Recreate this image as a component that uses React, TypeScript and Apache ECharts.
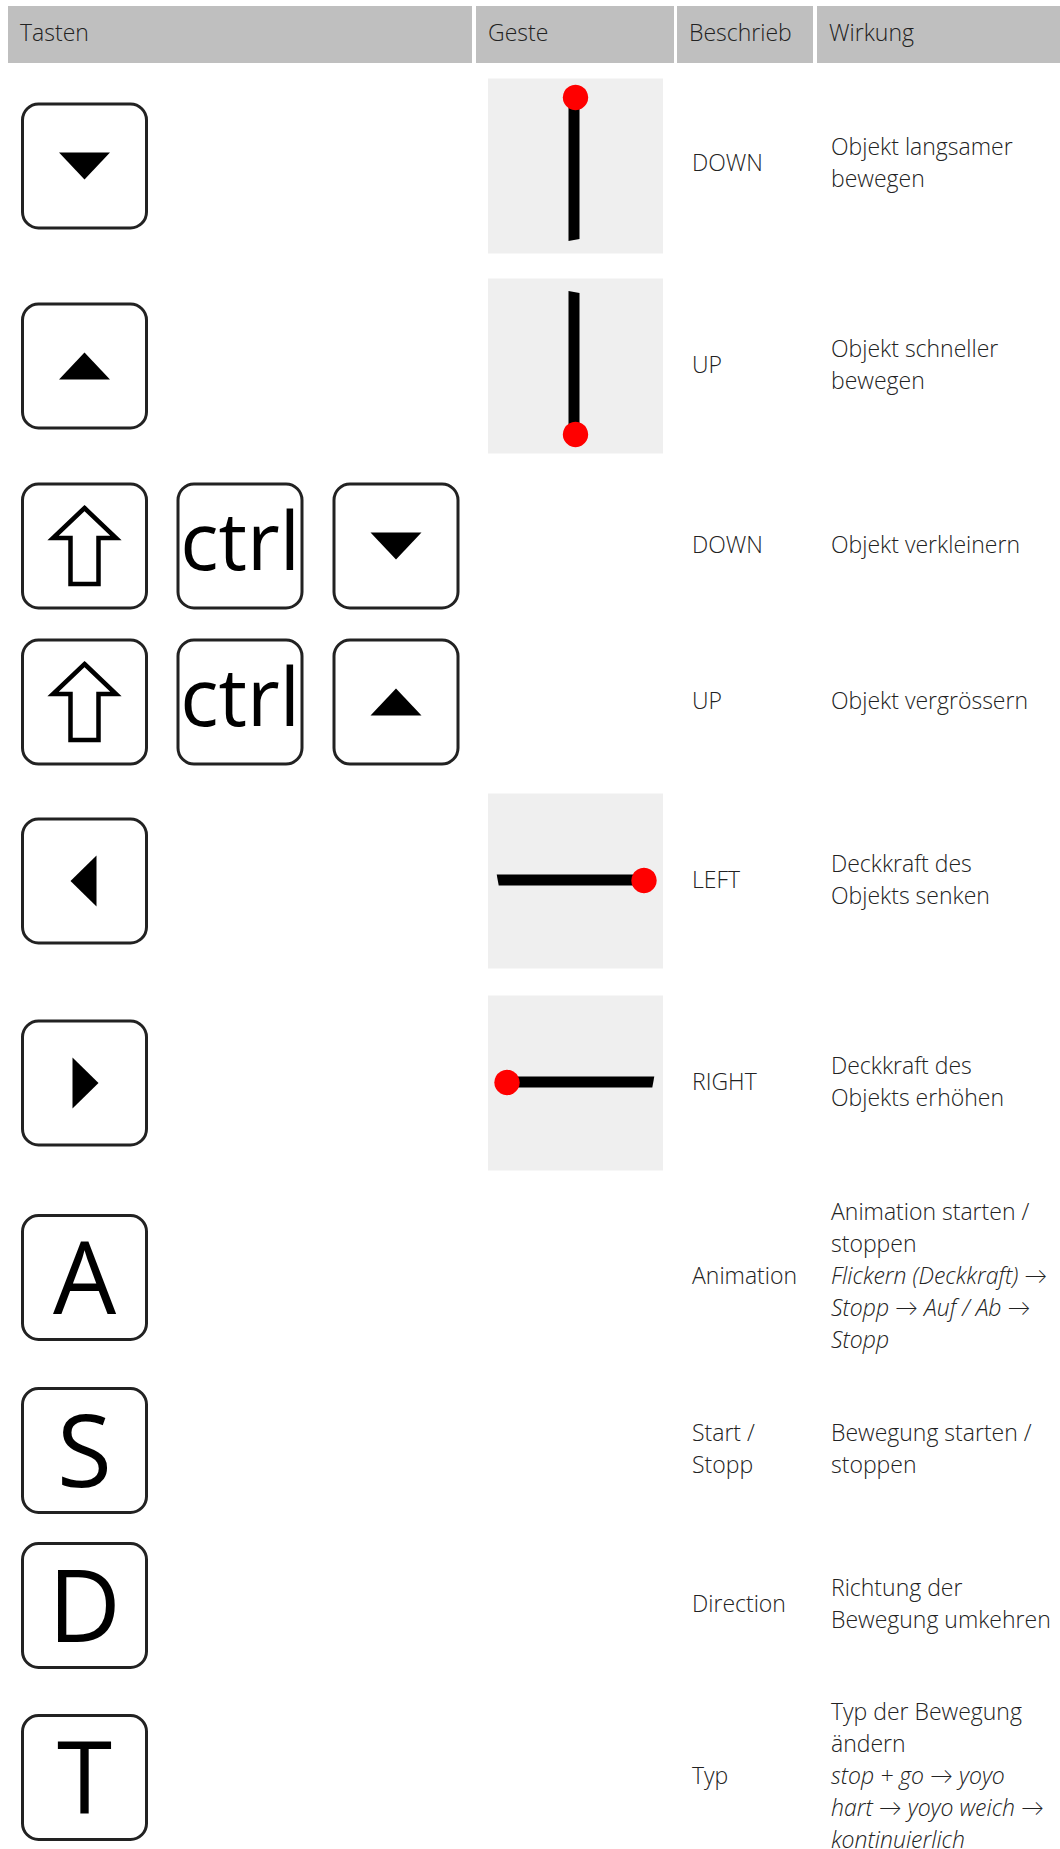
import React, { useEffect, useRef } from "react";
import * as echarts from "echarts";

const headers = ["Tasten", "Geste", "Beschrieb", "Wirkung"];
const headerCells = [
  [8, 472],
  [476, 674],
  [677, 813],
  [817, 1060],
];

const rowKeys: string[][] = [
  ["down"],
  ["up"],
  ["shift", "ctrl", "down"],
  ["shift", "ctrl", "up"],
  ["left"],
  ["right"],
  ["A"],
  ["S"],
  ["D"],
  ["T"],
];
const gestures: (string | null)[] = ["down", "up", null, null, "left", "right", null, null, null, null];
const beschrieb: string[][] = [
  ["DOWN"],
  ["UP"],
  ["DOWN"],
  ["UP"],
  ["LEFT"],
  ["RIGHT"],
  ["Animation"],
  ["Start /", "Stopp"],
  ["Direction"],
  ["Typ"],
];
const wirkung: string[][] = [
  ["Objekt langsamer", "bewegen"],
  ["Objekt schneller", "bewegen"],
  ["Objekt verkleinern"],
  ["Objekt vergrössern"],
  ["Deckkraft des", "Objekts senken"],
  ["Deckkraft des", "Objekts erhöhen"],
  ["Animation starten /", "stoppen"],
  ["Bewegung starten /", "stoppen"],
  ["Richtung der", "Bewegung umkehren"],
  ["Typ der Bewegung", "ändern"],
];
const wirkungItalic: string[][] = [
  [], [], [], [], [], [],
  ["Flickern (Deckkraft) →", "Stopp → Auf / Ab →", "Stopp"],
  [], [],
  ["stop + go → yoyo", "hart → yoyo weich →", "kontinuierlich"],
];
const rowCenters = [166, 366, 546, 702, 881, 1083, 1277.5, 1450.5, 1605.5, 1777.5];
const textShift = [-4.5, -2.5, -2.5, -2.5, -2.5, -2.5, -2.5, -2.5, -2.5, -2.5];

const TEXT_FONT = "'Open Sans', Lato, 'DejaVu Sans', sans-serif";
const KEY_FONT = "'Open Sans', 'DejaVu Sans', sans-serif";
const TEXT_COLOR = "#222";
const FS = 23;
const LH = 32;
const keyCols = [84.5, 240, 396];

function txt(x: number, y: number, text: string, opts: any = {}) {
  return {
    type: "text",
    x,
    y,
    silent: true,
    style: {
      text,
      fill: opts.fill || TEXT_COLOR,
      fontSize: opts.fontSize || FS,
      fontFamily: opts.fontFamily || TEXT_FONT,
      fontWeight: opts.fontWeight || 300,
      fontStyle: opts.fontStyle || "normal",
      align: opts.align || "left",
      textAlign: opts.align || "left",
      verticalAlign: "middle",
      textVerticalAlign: "middle",
    },
  };
}

function keyElements(kind: string, cx: number, cy: number) {
  const els: any[] = [];
  els.push({
    type: "rect",
    shape: { x: cx - 62, y: cy - 62, width: 124, height: 124, r: 16 },
    style: { fill: "#fff", stroke: "#222", lineWidth: 3 },
  });
  if (kind === "down") {
    els.push({ type: "polygon", shape: { points: [[cx - 25.5, cy - 13.5], [cx + 25.5, cy - 13.5], [cx, cy + 13.5]] }, style: { fill: "#000" } });
  } else if (kind === "up") {
    els.push({ type: "polygon", shape: { points: [[cx - 25.5, cy + 13.5], [cx + 25.5, cy + 13.5], [cx, cy - 13.5]] }, style: { fill: "#000" } });
  } else if (kind === "left") {
    els.push({ type: "polygon", shape: { points: [[cx + 12, cy - 25.5], [cx + 12, cy + 25.5], [cx - 14, cy]] }, style: { fill: "#000" } });
  } else if (kind === "right") {
    els.push({ type: "polygon", shape: { points: [[cx - 12, cy - 25.5], [cx - 12, cy + 25.5], [cx + 14, cy]] }, style: { fill: "#000" } });
  } else if (kind === "shift") {
    els.push({
      type: "polygon",
      shape: {
        points: [
          [cx, cy - 38],
          [cx + 31.5, cy - 8],
          [cx + 14, cy - 8],
          [cx + 14, cy + 38],
          [cx - 14, cy + 38],
          [cx - 14, cy - 8],
          [cx - 31.5, cy - 8],
        ],
      },
      style: { fill: "#fff", stroke: "#000", lineWidth: 4.5, lineJoin: "miter" },
    });
  } else if (kind === "ctrl") {
    els.push(txt(cx, cy - 8, "ctrl", { fontSize: 80, fontFamily: KEY_FONT, fontWeight: 400, align: "center", fill: "#000" }));
  } else {
    els.push(txt(cx, cy - 3, kind, { fontSize: 100, fontFamily: KEY_FONT, fontWeight: 400, align: "center", fill: "#000" }));
  }
  return els;
}

function gestureElements(kind: string, cy: number) {
  const bx = 488;
  const by = cy - 87.5;
  const els: any[] = [];
  els.push({ type: "rect", shape: { x: bx, y: by, width: 175, height: 175 }, style: { fill: "#efefef" } });
  let line: number[][] = [];
  let circ = [0, 0];
  if (kind === "down") {
    line = [[bx + 80.5, by + 19], [bx + 91.5, by + 19], [bx + 91.5, by + 160.5], [bx + 80.5, by + 162.5]];
    circ = [bx + 87.5, by + 19];
  } else if (kind === "up") {
    line = [[bx + 80.5, by + 12.5], [bx + 91.5, by + 14.5], [bx + 91.5, by + 156], [bx + 80.5, by + 156]];
    circ = [bx + 87.5, by + 156];
  } else if (kind === "left") {
    line = [[bx + 8.7, by + 81], [bx + 156, by + 81], [bx + 156, by + 92], [bx + 10.7, by + 92]];
    circ = [bx + 156, by + 87];
  } else {
    line = [[bx + 19, by + 81], [bx + 166.3, by + 81], [bx + 164.3, by + 92], [bx + 19, by + 92]];
    circ = [bx + 19, by + 87];
  }
  els.push({ type: "polygon", shape: { points: line }, style: { fill: "#000" } });
  els.push({ type: "circle", shape: { cx: circ[0], cy: circ[1], r: 12.7 }, style: { fill: "#ff0000" } });
  return els;
}

function buildOption() {
  const elements: any[] = [];
  headers.forEach((h, i) => {
    const [x0, x1] = headerCells[i];
    elements.push({ type: "rect", shape: { x: x0, y: 6, width: x1 - x0, height: 57 }, style: { fill: "#bfbfbf" } });
    elements.push(txt(x0 + 12, 31.5, h));
  });
  rowCenters.forEach((cy, r) => {
    rowKeys[r].forEach((k, j) => {
      elements.push(...keyElements(k, keyCols[j], cy));
    });
    const g = gestures[r];
    if (g) elements.push(...gestureElements(g, cy));
    const ty = cy + textShift[r];
    const b = beschrieb[r];
    b.forEach((line, i) => {
      elements.push(txt(692, ty + (i - (b.length - 1) / 2) * LH, line));
    });
    const w = wirkung[r].map((t) => ({ t, it: false })).concat(wirkungItalic[r].map((t) => ({ t, it: true })));
    w.forEach((line, i) => {
      elements.push(txt(831, ty + (i - (w.length - 1) / 2) * LH, line.t, { fontStyle: line.it ? "italic" : "normal" }));
    });
  });
  return {
    animation: false,
    backgroundColor: "#ffffff",
    graphic: { elements },
  };
}

export default function App() {
  const ref = useRef<HTMLDivElement>(null);
  useEffect(() => {
    const chart = echarts.init(ref.current as HTMLDivElement, null, { renderer: "svg" });
    chart.setOption(buildOption() as any);
    return () => chart.dispose();
  }, []);
  return <div ref={ref} style={{ position: "absolute", left: 0, top: 0, width: 1060, height: 1849 }} />;
}
